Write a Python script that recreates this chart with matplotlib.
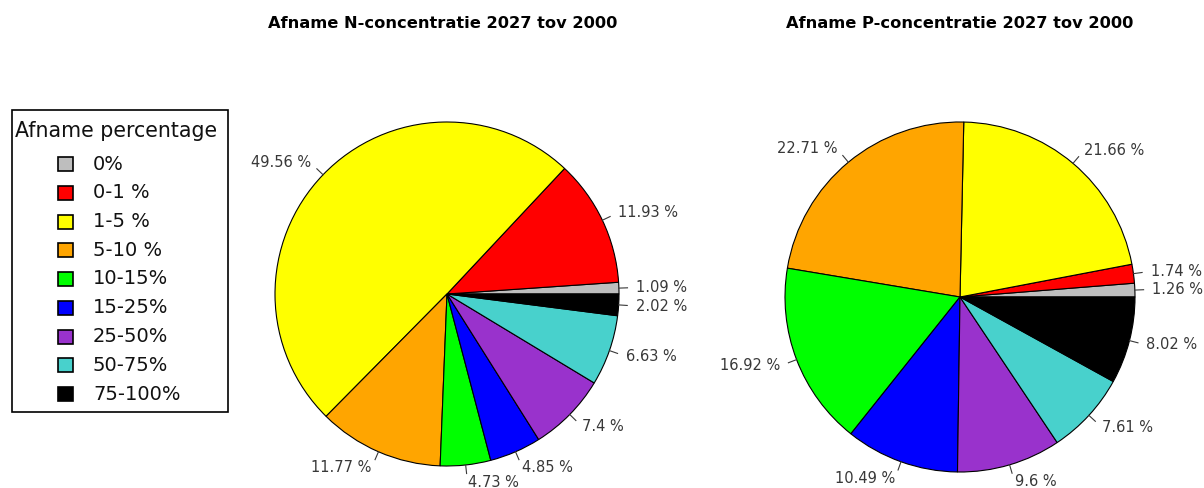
import matplotlib
matplotlib.use("Agg")
import matplotlib.pyplot as plt
from matplotlib.patches import Rectangle
import numpy as np

plt.rcParams['font.family'] = ['DejaVu Sans']

# Reduction classes, shared by both pies and the legend
categories = ["0%", "0-1 %", "1-5 %", "5-10 %", "10-15%", "15-25%", "25-50%", "50-75%", "75-100%"]
colors = ["#BEBEBE", "#FF0000", "#FFFF00", "#FFA500", "#00FF00",
          "#0000FF", "#9932CC", "#48D1CC", "#000000"]

# Share of water bodies per reduction class (%)
n_share = [1.09, 11.93, 49.56, 11.77, 4.73, 4.85, 7.4, 6.63, 2.02]
p_share = [1.26, 1.74, 21.66, 22.71, 16.92, 10.49, 9.6, 7.61, 8.02]

titles = ["Afname N-concentratie 2027 tov 2000", "Afname P-concentratie 2027 tov 2000"]
legend_title = "Afname percentage"

W, H = 1204, 488
fig = plt.figure(figsize=(W / 100, H / 100), dpi=100)

LABEL_COLOR = "#383838"


def pie_axes(cx, cy, r):
    """Square axes whose unit circle has radius r pixels, centred at (cx, cy) from top-left."""
    half = 1.5 * r
    ax = fig.add_axes([(cx - half) / W, (H - cy - half) / H, 2 * half / W, 2 * half / H])
    return ax


def draw_pie(ax, values):
    wedges, _ = ax.pie(values, colors=colors, startangle=0, counterclock=True,
                       radius=1, wedgeprops=dict(edgecolor="black", linewidth=0.8))
    for w, v in zip(wedges, values):
        mid = np.deg2rad((w.theta1 + w.theta2) / 2)
        x, y = np.cos(mid), np.sin(mid)
        ax.plot([x, 1.05 * x], [y, 1.05 * y], color=LABEL_COLOR, lw=0.8, clip_on=False)
        ax.text(1.1 * x, 1.1 * y, f"{v:g} %", ha="left" if x >= 0 else "right",
                va="center", fontsize=10.5, color=LABEL_COLOR, clip_on=False)
    ax.set_xlim(-1.5, 1.5)
    ax.set_ylim(-1.5, 1.5)
    ax.axis("off")


ax_n = pie_axes(447, 294, 172)
draw_pie(ax_n, n_share)
ax_p = pie_axes(960, 297, 175)
draw_pie(ax_p, p_share)

# Titles
for cx, t in zip([443, 960], titles):
    fig.text(cx / W, 1 - 24 / H, t, ha="center", va="center",
             fontsize=11.7, fontweight="bold", color="black")

# Legend drawn in pixel coordinates
lg = fig.add_axes([0, 0, 1, 1])
lg.set_xlim(0, W)
lg.set_ylim(H, 0)
lg.axis("off")
lg.add_patch(Rectangle((12, 110), 216, 302, facecolor="white", edgecolor="black", lw=1.2))
lg.text(15, 131, legend_title, ha="left", va="center", fontsize=14.8, color="#111111")
for i, (lab, col) in enumerate(zip(categories, colors)):
    yc = 164 + i * 28.75
    lg.add_patch(Rectangle((58, yc - 7), 15, 14, facecolor=col, edgecolor="black", lw=1.2))
    lg.text(93, yc, lab, ha="left", va="center", fontsize=14, color="#111111")

fig.savefig("out.png", dpi=100)
